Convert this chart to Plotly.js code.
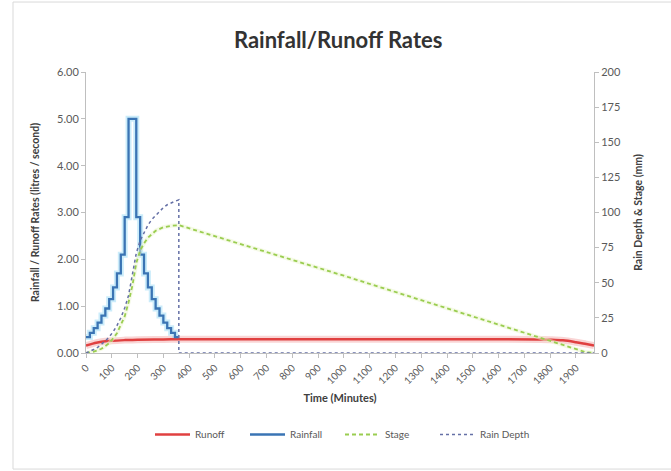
<!DOCTYPE html>
<html>
<head>
<meta charset="utf-8">
<script src="https://cdn.plot.ly/plotly-3.0.1.min.js"></script>
<style>
html,body{margin:0;padding:0;background:#fff;}
#chart{width:671px;height:471px;}
</style>
</head>
<body>
<div id="chart"></div>
<script>
// Rainfall hyetograph (15-minute blocks), litres / second
var rainTime = [0,15,30,45,60,75,90,105,120,135,150,165,180,195,210,225,240,255,270,285,300,315,330,345,360];
var rainfall = [0.34,0.43,0.53,0.65,0.80,0.95,1.15,1.40,1.70,2.10,2.90,5.00,5.00,2.90,2.10,1.70,1.40,1.15,0.95,0.80,0.65,0.53,0.43,0.34,0.34];

// Runoff rate, litres / second
var runoffTime = [0,20,40,60,100,150,200,300,400,800,1200,1600,1750,1800,1850,1900,1940,1970];
var runoff = [0.16,0.19,0.22,0.24,0.26,0.275,0.285,0.29,0.295,0.295,0.295,0.295,0.29,0.285,0.27,0.23,0.19,0.16];

// Stage, mm
var stageTime = [0,30,60,90,120,150,165,180,195,210,225,240,270,300,330,360,1000,1500,1800,1940,1970];
var stage = [0,1,3,7,14,26,36,48,64,73,78,82,87,89.5,90.5,91,55,26,9,0.5,0];

// Cumulative rain depth, mm
var depthTime = [0,15,30,45,60,75,90,105,120,135,150,165,180,195,210,225,240,255,270,285,300,315,330,345,360,360,1970];
var depth = [0,1,2.5,4,6,8.5,11.5,15,19.5,25,32,41,56,71,80,86,91,95,98,101,103.5,105.5,107,108,109,0,0];

var xTicks = [0,100,200,300,400,500,600,700,800,900,1000,1100,1200,1300,1400,1500,1600,1700,1800,1900];

var F = 'Lato, "Open Sans", "Liberation Sans", sans-serif';
var grey = '#595959';

var traces = [
  // glows
  {x: runoffTime, y: runoff, mode:'lines', line:{color:'rgba(240,150,150,0.4)', width:7, shape:'spline'}, showlegend:false, hoverinfo:'skip'},
  {x: rainTime, y: rainfall, mode:'lines', line:{color:'rgba(160,220,245,0.55)', width:6, shape:'hv'}, showlegend:false, hoverinfo:'skip'},
  {x: stageTime, y: stage, yaxis:'y2', mode:'lines', line:{color:'rgba(235,245,205,0.5)', width:4}, showlegend:false, hoverinfo:'skip'},
  // main series
  {name:'Runoff', x: runoffTime, y: runoff, mode:'lines', line:{color:'#E04040', width:2.5, shape:'spline'}},
  {name:'Rainfall', x: rainTime, y: rainfall, mode:'lines', line:{color:'#3A74B4', width:2.3, shape:'hv'}},
  {name:'Stage', x: stageTime, y: stage, yaxis:'y2', mode:'lines', line:{color:'#9ACD50', width:1.8, dash:'4px,3px'}},
  {name:'Rain Depth', x: depthTime, y: depth, yaxis:'y2', mode:'lines', line:{color:'#6570A6', width:1.5, dash:'dot'}}
];

var layout = {
  width:671, height:471,
  margin:{l:86, r:77, t:72, b:118},
  paper_bgcolor:'#ffffff', plot_bgcolor:'#ffffff',
  font:{family:F, color:grey, size:10},
  title:{text:'<b>Rainfall/Runoff Rates</b>', font:{family:F, size:22, color:'#333333'}, x:0.504, xanchor:'center', y:0.915, yanchor:'middle'},
  showlegend:true,
  legend:{orientation:'h', x:0.5, xanchor:'center', y:-0.29, yanchor:'middle', font:{family:F, size:10, color:grey}, traceorder:'normal', itemwidth:35, entrywidth:45, entrywidthmode:'pixels'},
  xaxis:{
    range:[0,1970], tickmode:'array', tickvals:xTicks, ticktext:xTicks.map(String),
    tickangle:-45, tickfont:{family:F, size:10, color:grey},
    showgrid:false, zeroline:false, showline:true, linecolor:'#BFBFBF', linewidth:1,
    ticks:'outside', ticklen:4, tickcolor:'#BFBFBF',
    title:{text:'<b>Time (Minutes)</b>', font:{family:F, size:11, color:'#404040'}, standoff:8}
  },
  yaxis:{
    range:[0,6], dtick:1, tickformat:'.2f', tickfont:{family:F, size:11, color:grey},
    showgrid:false, zeroline:false, showline:true, linecolor:'#BFBFBF', linewidth:1,
    ticks:'outside', ticklen:4, tickcolor:'#BFBFBF',
    title:{text:'<b>Rainfall / Runoff Rates (litres / second)</b>', font:{family:F, size:10.5, color:'#404040'}, standoff:15}
  },
  yaxis2:{
    range:[0,200], dtick:25, overlaying:'y', side:'right', tickfont:{family:F, size:11, color:grey},
    showgrid:false, zeroline:false, showline:true, linecolor:'#BFBFBF', linewidth:1,
    ticks:'outside', ticklen:4, tickcolor:'#BFBFBF',
    title:{text:'<b>Rain Depth &amp; Stage (mm)</b>', font:{family:F, size:10.5, color:'#404040'}, standoff:14}
  },
  shapes:[
    {type:'rect', xref:'paper', yref:'paper', x0:-0.1437, x1:1.378, y0:-0.413, y1:1.249, line:{color:'#D9D9D9', width:1}, fillcolor:'rgba(0,0,0,0)', layer:'below'}
  ]
};

Plotly.newPlot('chart', traces, layout, {displayModeBar:false, staticPlot:true});
</script>
</body>
</html>
